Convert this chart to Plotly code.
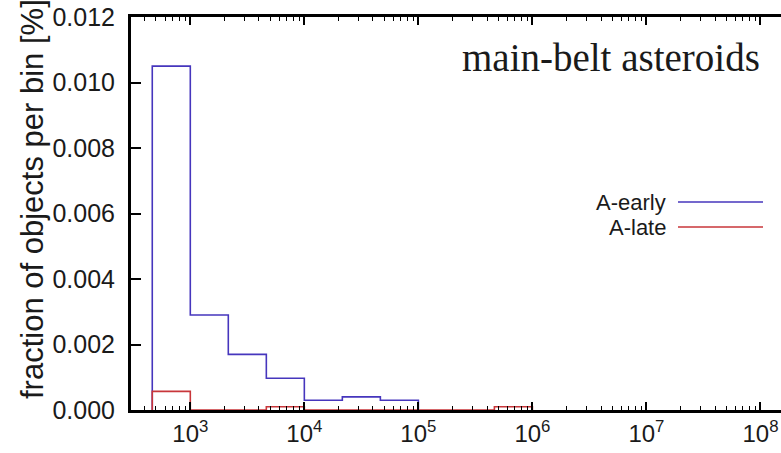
import plotly.graph_objects as go

# bin edges (1/3 decade bins)
bin_edges = [464, 1000, 2154, 4642, 10000, 21544, 46416, 100000, 215443, 464159, 1000000]
series_names = ["A-early", "A-late"]
early = [0.0105, 0.0029, 0.0017, 0.00097, 0.0003, 0.0004, 0.0003, 0.0, 0.0, 0.0]
late = [0.00057, 0.0, 0.0, 0.0001, 0.0, 0.0, 0.0, 0.0, 0.0, 0.0001]
colors = ["#4636bd", "#c8363a"]
y_ticks = [0.000, 0.002, 0.004, 0.006, 0.008, 0.010, 0.012]
x_ticks = [1e3, 1e4, 1e5, 1e6, 1e7, 1e8]
x_ticktext = ["10<sup>3</sup>", "10<sup>4</sup>", "10<sup>5</sup>", "10<sup>6</sup>",
              "10<sup>7</sup>", "10<sup>8</sup>"]


def step_xy(edges, vals):
    last = max(i for i, v in enumerate(vals) if v > 0)
    xs = [edges[0]] + edges[:last + 2]
    ys = [0.0] + vals[:last + 1] + [0.0]
    return xs, ys


fig = go.Figure()
for name, vals, col in zip(series_names, [early, late], colors):
    xs, ys = step_xy(bin_edges, vals)
    fig.add_trace(go.Scatter(x=xs, y=ys, mode="lines", line_shape="hv",
                             line=dict(color=col, width=1.6), name=name,
                             showlegend=False))

sans = "Liberation Sans, Arial, sans-serif"
fig.update_layout(
    width=781, height=453,
    margin=dict(l=131, r=0, t=17, b=43),
    paper_bgcolor="white", plot_bgcolor="white",
    font=dict(family=sans, color="#1a1a1a", size=24),
    xaxis=dict(type="log", range=[2.48, 8.18], showgrid=False, zeroline=False,
               showline=True, linecolor="black", linewidth=3, mirror="ticks",
               ticks="inside", ticklen=8, tickwidth=1.5, tickcolor="black",
               tickvals=x_ticks, ticktext=x_ticktext,
               tickfont=dict(size=24, family=sans, color="#1a1a1a"),
               minor=dict(ticks="inside", ticklen=4, tickwidth=1.2, tickcolor="black",
                          dtick="D1", showgrid=False)),
    yaxis=dict(range=[0, 0.012], showgrid=False, zeroline=False,
               showline=True, linecolor="black", linewidth=3, mirror=False,
               ticks="inside", ticklen=10, tickwidth=1.5, tickcolor="black",
               tickvals=y_ticks, tickformat=".3f", ticklabelstandoff=8,
               tickfont=dict(size=25, family=sans, color="#1a1a1a")),
)

# y-axis title
fig.add_annotation(text="fraction of objects per bin [%]", textangle=-90,
                   xref="paper", yref="paper", x=(32 - 131) / 650, y=(410 - 199) / 393,
                   xanchor="center", yanchor="middle", showarrow=False,
                   font=dict(size=31, family=sans, color="#1a1a1a"))

# panel label
fig.add_annotation(text="main-belt asteroids", xref="paper", yref="paper",
                   x=(762 - 131) / 650, y=(410 - 57) / 393, xanchor="right", yanchor="middle",
                   showarrow=False,
                   font=dict(size=39, family="Liberation Serif, Times New Roman, serif",
                             color="#1a1a1a"))

# legend (text left of line sample)
for i, (name, col) in enumerate(zip(series_names, colors)):
    ypx = 202 + 25 * i
    yp = (410 - ypx) / 393
    fig.add_annotation(text=name, xref="paper", yref="paper", x=(668 - 131) / 650, y=yp,
                       xanchor="right", yanchor="middle", showarrow=False,
                       font=dict(size=22, family=sans, color="#1a1a1a"))
    fig.add_shape(type="line", xref="paper", yref="paper",
                  x0=(678 - 131) / 650, x1=(763 - 131) / 650, y0=yp, y1=yp,
                  line=dict(color=col, width=1.6))

fig.write_html("out.html")
